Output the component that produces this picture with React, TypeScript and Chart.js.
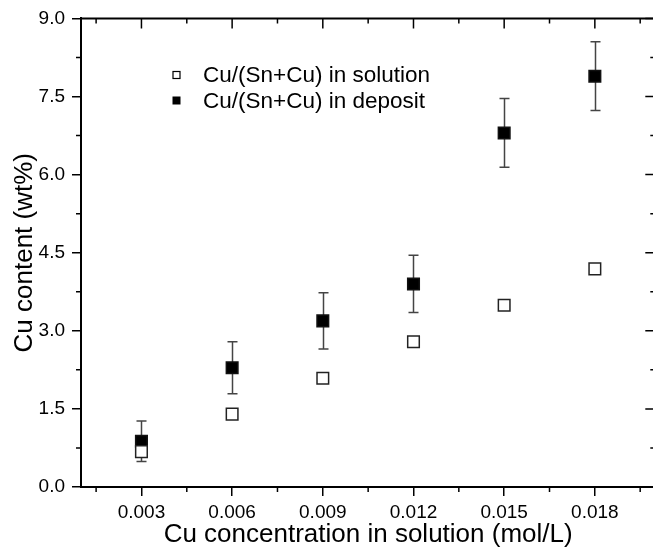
import React, { useEffect, useRef } from "react";
import { Chart, registerables } from "chart.js";

Chart.register(...registerables);

const concentrations = [0.003, 0.006, 0.009, 0.012, 0.015, 0.018];
const solutionValues = [0.68, 1.4, 2.09, 2.79, 3.49, 4.19];
const depositValues = [0.88, 2.29, 3.19, 3.9, 6.8, 7.89];
const depositErrors = [0.39, 0.5, 0.54, 0.55, 0.66, 0.66];
const xMajorTicks = [0.003, 0.006, 0.009, 0.012, 0.015, 0.018];
const xMinorTicks = [0.0015, 0.0045, 0.0075, 0.0105, 0.0135, 0.0165, 0.0195];
const yMajorTicks = [0, 1.5, 3, 4.5, 6, 7.5, 9];
const yMinorTicks = [0.75, 2.25, 3.75, 5.25, 6.75, 8.25];
const legendLabels = ["Cu/(Sn+Cu) in solution", "Cu/(Sn+Cu) in deposit"];

const FONT = "'Liberation Sans', Arial, Helvetica, sans-serif";

const errorBarPlugin = {
  id: "errorBars",
  beforeDatasetsDraw(chart: any) {
    const { ctx, scales } = chart;
    const xs = scales.x;
    const ys = scales.y;
    ctx.save();
    ctx.strokeStyle = "#444";
    ctx.lineWidth = 1.5;
    concentrations.forEach((c, i) => {
      const px = Math.round(xs.getPixelForValue(c)) + 0.5;
      const yTop = ys.getPixelForValue(depositValues[i] + depositErrors[i]);
      const yBot = ys.getPixelForValue(depositValues[i] - depositErrors[i]);
      ctx.beginPath();
      ctx.moveTo(px, yTop);
      ctx.lineTo(px, yBot);
      ctx.moveTo(px - 5, yTop);
      ctx.lineTo(px + 5, yTop);
      ctx.moveTo(px - 5, yBot);
      ctx.lineTo(px + 5, yBot);
      ctx.stroke();
    });
    ctx.restore();
  },
};

const framePlugin = {
  id: "frame",
  afterDraw(chart: any) {
    const { ctx, chartArea, scales } = chart;
    const { left, right, top, bottom } = chartArea;
    const xs = scales.x;
    const ys = scales.y;
    ctx.save();
    ctx.strokeStyle = "#000";
    ctx.lineWidth = 2;
    ctx.beginPath();
    ctx.moveTo(left - 1, top);
    ctx.lineTo(right, top);
    ctx.lineTo(right, bottom);
    ctx.stroke();
    ctx.lineWidth = 1.5;
    ctx.beginPath();
    xMajorTicks.forEach((v) => {
      const p = xs.getPixelForValue(v);
      ctx.moveTo(p, top);
      ctx.lineTo(p, top + 10);
    });
    xMinorTicks.forEach((v) => {
      const p = xs.getPixelForValue(v);
      ctx.moveTo(p, top);
      ctx.lineTo(p, top + 5);
      ctx.moveTo(p, bottom);
      ctx.lineTo(p, bottom + 5);
    });
    yMajorTicks.forEach((v) => {
      const p = ys.getPixelForValue(v);
      ctx.moveTo(right, p);
      ctx.lineTo(right - 10, p);
    });
    yMinorTicks.forEach((v) => {
      const p = ys.getPixelForValue(v);
      ctx.moveTo(right, p);
      ctx.lineTo(right - 5, p);
      ctx.moveTo(left, p);
      ctx.lineTo(left - 5, p);
    });
    ctx.stroke();

    // legend
    const sx = 176.5;
    const rows = [75, 100.5];
    ctx.lineWidth = 1.2;
    ctx.strokeStyle = "#000";
    ctx.fillStyle = "#fff";
    ctx.fillRect(sx - 3.5, rows[0] - 3.5, 7, 7);
    ctx.strokeRect(sx - 3.5, rows[0] - 3.5, 7, 7);
    ctx.fillStyle = "#000";
    ctx.fillRect(sx - 4, rows[1] - 4, 8, 8);
    ctx.font = `22.5px ${FONT}`;
    ctx.textBaseline = "middle";
    ctx.textAlign = "left";
    ctx.fillText(legendLabels[0], 203, rows[0] + 1);
    ctx.fillText(legendLabels[1], 203, rows[1] + 1);
    ctx.restore();
  },
};

export default function App() {
  const ref = useRef<HTMLCanvasElement | null>(null);
  useEffect(() => {
    if (!ref.current) return;
    Chart.defaults.font.family = FONT;
    Chart.defaults.color = "#000";
    const chart = new Chart(ref.current, {
      type: "scatter",
      data: {
        datasets: [
          {
            label: legendLabels[0],
            data: concentrations.map((c, i) => ({ x: c, y: solutionValues[i] })),
            pointStyle: "rect",
            pointRadius: 8.2,
            pointHoverRadius: 8.2,
            backgroundColor: "#fff",
            borderColor: "#222",
            borderWidth: 1.5,
          },
          {
            label: legendLabels[1],
            data: concentrations.map((c, i) => ({ x: c, y: depositValues[i] })),
            pointStyle: "rect",
            pointRadius: 8.2,
            pointHoverRadius: 8.2,
            backgroundColor: "#000",
            borderColor: "#111",
            borderWidth: 1.5,
          },
        ],
      },
      options: {
        responsive: false,
        animation: false,
        events: [],
        layout: { padding: { top: 18, right: 8, left: 0, bottom: 0 } },
        plugins: { legend: { display: false }, tooltip: { enabled: false } },
        scales: {
          x: {
            type: "linear",
            min: 0.001,
            max: 0.02,
            afterBuildTicks: (s: any) => {
              s.ticks = xMajorTicks.map((v) => ({ value: v }));
            },
            afterFit: (s: any) => {
              s.height = 63;
            },
            ticks: {
              font: { size: 19 },
              color: "#000",
              padding: 5,
              maxRotation: 0,
              callback: (v: any) => Number(v).toFixed(3),
            },
            grid: {
              display: true,
              drawOnChartArea: false,
              drawTicks: true,
              tickLength: 9,
              color: "#000",
              lineWidth: 1.5,
            },
            border: { display: true, color: "#000", width: 2 },
            title: {
              display: true,
              text: "Cu concentration in solution (mol/L)",
              font: { size: 26 },
              color: "#000",
              padding: { top: 0, bottom: 0 },
            },
          },
          y: {
            type: "linear",
            min: 0,
            max: 9,
            afterBuildTicks: (s: any) => {
              s.ticks = yMajorTicks.map((v) => ({ value: v }));
            },
            afterFit: (s: any) => {
              s.width = 81;
            },
            ticks: {
              font: { size: 19 },
              color: "#000",
              padding: 7,
              callback: (v: any) => Number(v).toFixed(1),
            },
            grid: {
              display: true,
              drawOnChartArea: false,
              drawTicks: true,
              tickLength: 9,
              color: "#000",
              lineWidth: 1.5,
            },
            border: { display: true, color: "#000", width: 2 },
            title: {
              display: true,
              text: "Cu content (wt%)",
              font: { size: 26 },
              color: "#000",
              padding: { top: 9, bottom: 0 },
            },
          },
        },
      },
      plugins: [errorBarPlugin, framePlugin],
    } as any);
    return () => chart.destroy();
  }, []);
  return (
    <div
      style={{
        position: "fixed",
        left: 0,
        top: 0,
        width: 653,
        height: 550,
        overflow: "hidden",
        background: "#fff",
      }}
    >
      <canvas ref={ref} width={665} height={550} style={{ display: "block" }} />
    </div>
  );
}
